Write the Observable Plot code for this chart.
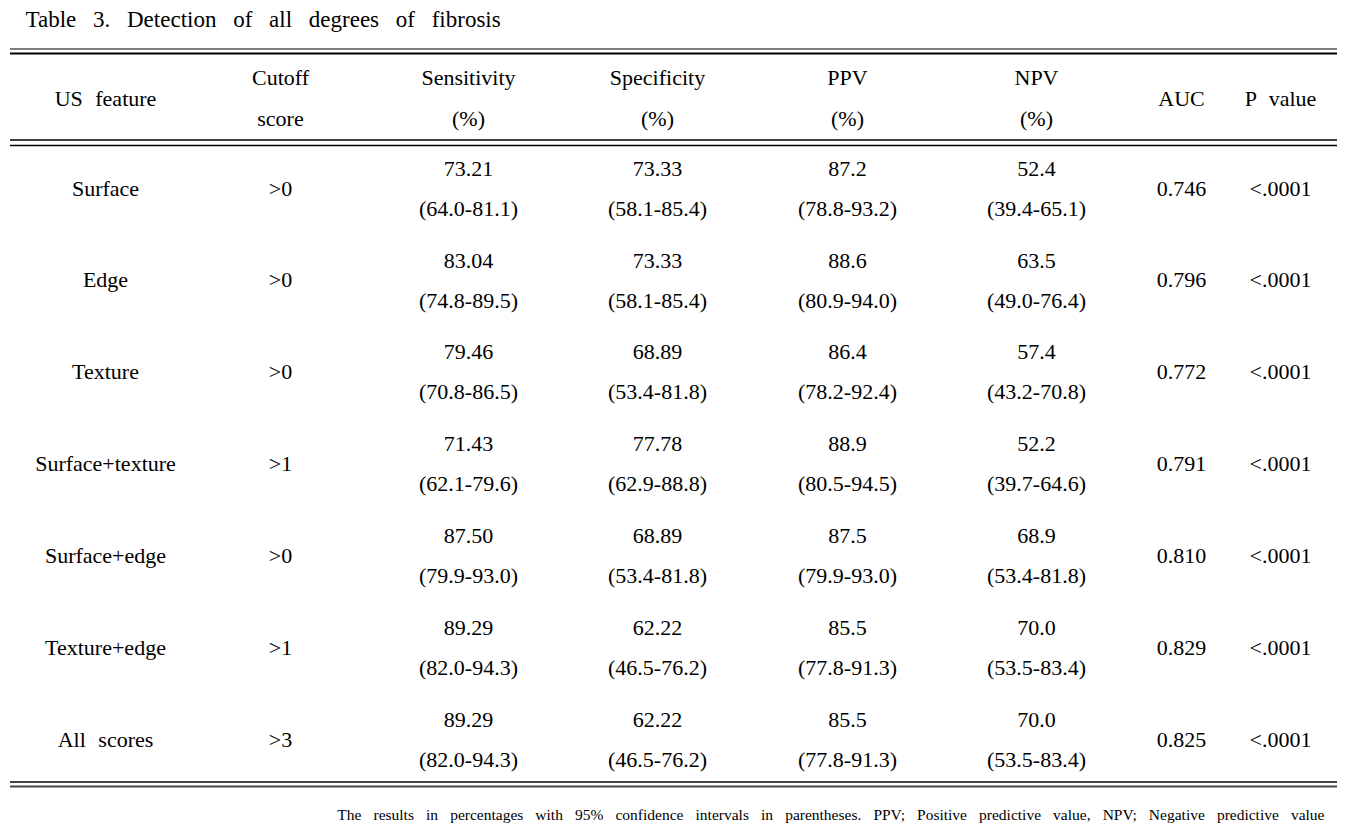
<!DOCTYPE html>
<html><head><meta charset="utf-8">
<script src="https://cdn.jsdelivr.net/npm/d3@7"></script>
<script src="https://cdn.jsdelivr.net/npm/@observablehq/plot@0.6"></script>
<style>
html,body{margin:0;padding:0;background:#fff;}
svg text{font-family:"Liberation Serif","Times New Roman",serif;}
svg g.body text{word-spacing:7px;}
svg g.ttl text{word-spacing:11px;}
svg g.foot text{word-spacing:8.2px;}
</style></head><body>
<div id="chart"></div>
<script>
// ---- data ----
const title = "Table 3. Detection of all degrees of fibrosis";
const footnote = "The results in percentages with 95% confidence intervals in parentheses. PPV; Positive predictive value, NPV; Negative predictive value";
const columns = ["feature","cutoff","sens","spec","ppv","npv","auc","p"];
const headers = ["US feature","Cutoff\nscore","Sensitivity\n(%)","Specificity\n(%)","PPV\n(%)","NPV\n(%)","AUC","P value"];
const features = ["Surface","Edge","Texture","Surface+texture","Surface+edge","Texture+edge","All scores"];
const cutoffs = [">0",">0",">0",">1",">0",">1",">3"];
const sensitivity = ["73.21","83.04","79.46","71.43","87.50","89.29","89.29"];
const sensitivityCI = ["(64.0-81.1)","(74.8-89.5)","(70.8-86.5)","(62.1-79.6)","(79.9-93.0)","(82.0-94.3)","(82.0-94.3)"];
const specificity = ["73.33","73.33","68.89","77.78","68.89","62.22","62.22"];
const specificityCI = ["(58.1-85.4)","(58.1-85.4)","(53.4-81.8)","(62.9-88.8)","(53.4-81.8)","(46.5-76.2)","(46.5-76.2)"];
const ppv = ["87.2","88.6","86.4","88.9","87.5","85.5","85.5"];
const ppvCI = ["(78.8-93.2)","(80.9-94.0)","(78.2-92.4)","(80.5-94.5)","(79.9-93.0)","(77.8-91.3)","(77.8-91.3)"];
const npv = ["52.4","63.5","57.4","52.2","68.9","70.0","70.0"];
const npvCI = ["(39.4-65.1)","(49.0-76.4)","(43.2-70.8)","(39.7-64.6)","(53.4-81.8)","(53.5-83.4)","(53.5-83.4)"];
const auc = ["0.746","0.796","0.772","0.791","0.810","0.829","0.825"];
const pvalues = ["<.0001","<.0001","<.0001","<.0001","<.0001","<.0001","<.0001"];

// ---- layout ----
const W = 1356, H = 833;
const FONT = "Liberation Serif";
const FS = 22;
const colCenter = {feature:105, cutoff:280, sens:468, spec:657, ppv:847, npv:1036, auc:1181, p:1280};
const rowBand = d3.scaleBand().domain(features).range([142.1, 784.9]);
const rowY = f => rowBand(f) + rowBand.bandwidth()/2;

// build cells
const single = [], double = [];
features.forEach((f, i) => {
  single.push({col: "feature", row: f, text: f});
  single.push({col: "cutoff", row: f, text: cutoffs[i]});
  single.push({col: "auc", row: f, text: auc[i]});
  single.push({col: "p", row: f, text: pvalues[i]});
  double.push({col: "sens", row: f, text: sensitivity[i] + "\n" + sensitivityCI[i]});
  double.push({col: "spec", row: f, text: specificity[i] + "\n" + specificityCI[i]});
  double.push({col: "ppv", row: f, text: ppv[i] + "\n" + ppvCI[i]});
  double.push({col: "npv", row: f, text: npv[i] + "\n" + npvCI[i]});
});
const headerCells = columns.map((c, i) => ({col: c, text: headers[i]}));
const headSingle = headerCells.filter(d => !d.text.includes("\n"));
const headDouble = headerCells.filter(d => d.text.includes("\n"));

const thinTop = [{y: 48.5}];
const thickTop = [{y: 53}];
const headLines = [{y: 139.5}, {y: 145}];
const bottomLines = [{y: 781.5}, {y: 786}];

const ruleOpts = {y: "y", x1: 10, x2: 1337};
const chart = Plot.plot({
  width: W, height: H, margin: 0,
  x: {domain: [0, W], range: [0, W], axis: null},
  y: {domain: [0, H], range: [0, H], axis: null},
  style: {fontFamily: FONT, background: "#fff", color: "#000"},
  marks: [
    Plot.ruleY(thinTop, {...ruleOpts, stroke: "#000", strokeWidth: 1}),
    Plot.ruleY(thickTop, {...ruleOpts, stroke: "#000", strokeWidth: 2}),
    Plot.ruleY(headLines, {...ruleOpts, stroke: "#000", strokeWidth: 1.3}),
    Plot.ruleY(bottomLines, {...ruleOpts, stroke: "#444", strokeWidth: 2}),
    Plot.text([title], {x: () => 25, y: () => 19.6, text: d => d, textAnchor: "start", fontFamily: FONT, fontSize: 23, fill: "#000", className: "ttl"}),
    Plot.text(headSingle, {x: d => colCenter[d.col], y: () => 98, text: "text", fontFamily: FONT, fontSize: FS, fill: "#000", className: "body"}),
    Plot.text(headDouble, {x: d => colCenter[d.col], y: () => 91.4, text: "text", fontFamily: FONT, fontSize: FS, lineHeight: 41 / FS, fill: "#000", className: "body"}),
    Plot.text(single, {x: d => colCenter[d.col], y: d => rowY(d.row), text: "text", fontFamily: FONT, fontSize: FS, fill: "#000", className: "body"}),
    Plot.text(double, {x: d => colCenter[d.col], y: d => rowY(d.row) - 5.5, text: "text", fontFamily: FONT, fontSize: FS, lineHeight: 40 / FS, fill: "#000", className: "body"}),
    Plot.text([footnote], {x: () => 1324, y: () => 815, text: d => d, textAnchor: "end", fontFamily: FONT, fontSize: 15.5, fill: "#000", className: "foot"})
  ]
});
document.getElementById("chart").appendChild(chart);
</script>
</body></html>
